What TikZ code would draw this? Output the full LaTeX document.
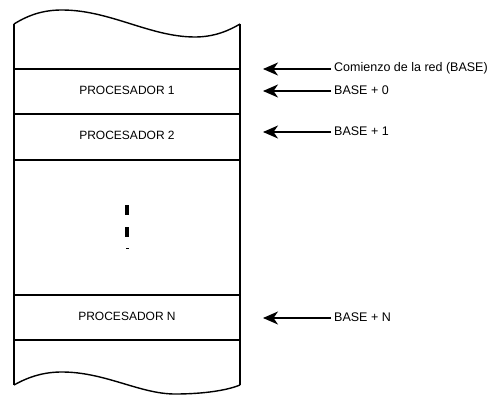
\documentclass[tikz,border=0pt]{standalone}
\usepackage{fontspec}
\setmainfont{Liberation Sans}
\usetikzlibrary{arrows.meta}
\usetikzlibrary{scopes}

\begin{document}
\begin{tikzpicture}[
    x=1pt,y=-1pt,
    wall/.style={draw=black,line width=1.4pt},
    row/.style={draw=black,line width=1.4pt},
    proc/.style={font=\fontsize{12}{14}\selectfont,inner sep=0pt},
    addr/.style={font=\fontsize{12.5}{14}\selectfont,inner sep=0pt,anchor=west},
    pointer/.style={-{Stealth[length=15pt,width=13pt,inset=4.5pt]},line width=1.4pt},
    dot/.style={fill=black},
]
    \useasboundingbox (0,0) rectangle (492,396);

    % Memory block with torn ends
    \draw[wall] (14,24) .. controls (30,14) and (45,10) .. (62,10)
        .. controls (110,10) and (150,37) .. (195,37)
        .. controls (215,37) and (230,30) .. (240,24);
    \draw[wall] (14,385) .. controls (30,376) and (45,372) .. (62,372)
        .. controls (105,372) and (140,394) .. (175,394)
        .. controls (205,394) and (228,390) .. (240,385);
    \draw[wall] (14,24) -- (14,385);
    \draw[wall] (240,24) -- (240,385);

    % Rows
    \draw[row] (14,69) -- (240,69);
    \draw[row] (14,114) -- (240,114);
    \draw[row] (14,160) -- (240,160);
    \draw[row] (14,295) -- (240,295);
    \draw[row] (14,340) -- (240,340);

    \node[proc] (p1) at (127,90) {PROCESADOR 1};
    \node[proc] (p2) at (127,135) {PROCESADOR 2};
    \node[proc] (pN) at (127,316) {PROCESADOR N};

    % Ellipsis
    \fill[dot] (125,205) rectangle (129,215);
    \fill[dot] (125,227) rectangle (129,237);
    \fill[dot] (125.5,247.5) rectangle (128.5,249);

    % Addresses
    \node[addr] (base) at (334,68) {Comienzo de la red (BASE)};
    \node[addr] (b0) at (334,90) {BASE + 0};
    \node[addr] (b1) at (334,131) {BASE + 1};
    \node[addr] (bN) at (334,317) {BASE + N};

    \coordinate (tbase) at (263,69);
    \coordinate (tb0) at (263,91);
    \coordinate (tb1) at (263,132);
    \coordinate (tbN) at (263,318);

    {[pointer]
        \draw ([xshift=-3pt]base.west |- tbase) -- (tbase);
        \draw ([xshift=-3pt]b0.west |- tb0) -- (tb0);
        \draw ([xshift=-3pt]b1.west |- tb1) -- (tb1);
        \draw ([xshift=-3pt]bN.west |- tbN) -- (tbN);
    }
\end{tikzpicture}
\end{document}
